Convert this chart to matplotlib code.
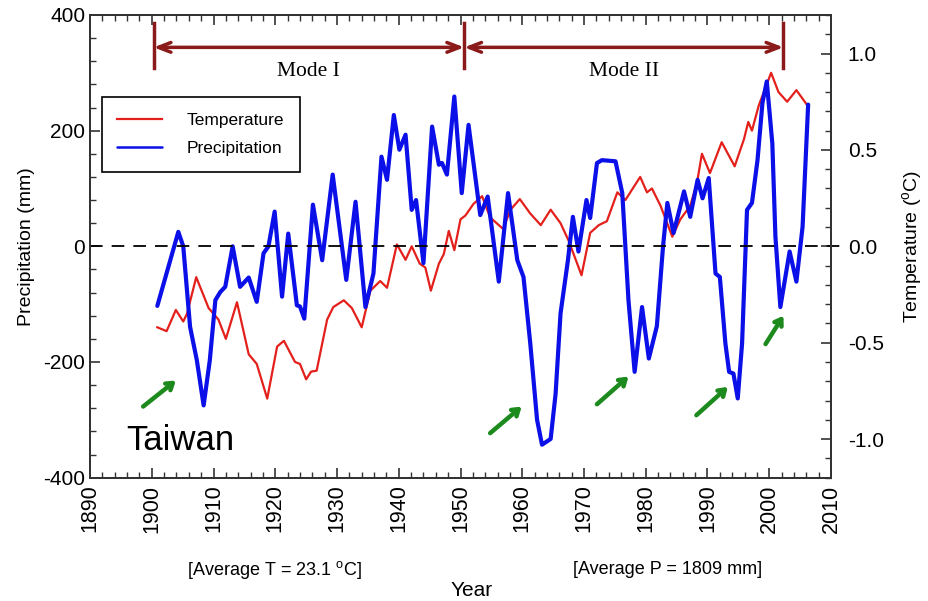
import matplotlib
matplotlib.use("Agg")
import matplotlib.pyplot as plt
from matplotlib.ticker import MultipleLocator

plt.rcParams['font.family'] = ['Liberation Sans', 'DejaVu Sans']
plt.rcParams['mathtext.fontset'] = 'custom'
plt.rcParams['mathtext.rm'] = 'Liberation Sans'
plt.rcParams['axes.unicode_minus'] = False

# %% data
precip_year = [1900.9, 1904.3, 1905.1, 1906.2, 1907.3, 1908.4, 1909.4, 1910.3, 1911.1, 1911.9,
               1913.1, 1914.3, 1915.7, 1917.0, 1918.1, 1918.9, 1919.9, 1921.1, 1922.1, 1923.5,
               1924.0, 1924.7, 1926.1, 1927.6, 1929.3, 1931.5, 1933.0, 1934.6, 1935.9, 1937.2,
               1938.1, 1939.2, 1940.1, 1941.1, 1942.1, 1942.8, 1944.0, 1945.4, 1946.5, 1947.0,
               1947.8, 1949.0, 1950.2, 1951.3, 1953.2, 1954.4, 1956.2, 1957.7, 1959.2, 1960.2,
               1961.3, 1962.4, 1963.2, 1964.6, 1965.4, 1966.2, 1967.4, 1968.2, 1969.1, 1970.4,
               1971.0, 1972.1, 1972.9, 1975.1, 1976.2, 1977.2, 1978.2, 1979.4, 1980.5, 1981.8,
               1982.8, 1983.5, 1984.5, 1986.2, 1987.2, 1988.4, 1989.2, 1990.2, 1991.3, 1992.0,
               1992.9, 1993.5, 1994.2, 1994.9, 1995.6, 1996.4, 1997.2, 1998.1, 1998.9, 1999.6,
               2000.5, 2001.0, 2001.8, 2003.3, 2004.4, 2005.4, 2006.3]
precip_mm = [-103, 25, 0, -139, -197, -275, -197, -93, -79, -70,
             0, -70, -54, -96, -12, 0, 60, -87, 22, -102,
             -104, -125, 72, -24, 124, -58, 77, -105, -47, 155,
             115, 227, 167, 193, 63, 80, -29, 207, 141, 144,
             124, 259, 92, 210, 54, 86, -61, 92, -24, -53,
             -168, -300, -343, -333, -255, -116, -24, 51, -9, 80,
             49, 144, 149, 147, 92, -93, -217, -105, -194, -138,
             0, 75, 23, 95, 51, 115, 83, 118, -47, -53,
             -168, -217, -220, -263, -168, 63, 75, 149, 248, 285,
             178, 17, -105, -9, -61, 34, 245]

temp_year = [1900.9, 1902.4, 1903.9, 1905.1, 1905.7, 1907.2, 1909.2, 1910.8, 1912.0, 1913.8,
             1915.7, 1917.0, 1918.7, 1920.3, 1921.4, 1923.2, 1924.0, 1925.0, 1925.8, 1926.7,
             1928.4, 1929.4, 1931.1, 1932.4, 1934.0, 1935.4, 1937.0, 1938.1, 1939.7, 1941.1,
             1942.1, 1943.4, 1944.3, 1945.2, 1946.5, 1947.3, 1948.1, 1949.0, 1950.0, 1950.8,
             1952.1, 1953.5, 1954.8, 1956.9, 1958.1, 1959.6, 1961.3, 1963.0, 1964.6, 1966.2,
             1967.5, 1969.6, 1971.0, 1972.4, 1973.7, 1975.4, 1976.7, 1979.1, 1980.2, 1981.0,
             1982.4, 1984.3, 1985.6, 1987.2, 1988.3, 1989.1, 1990.4, 1992.3, 1994.4, 1995.9,
             1996.6, 1997.2, 1998.3, 2000.3, 2001.5, 2002.9, 2004.4, 2006.2]
temp_c = [-0.42, -0.44, -0.33, -0.39, -0.35, -0.16, -0.32, -0.38, -0.48, -0.29,
          -0.56, -0.61, -0.79, -0.52, -0.49, -0.60, -0.61, -0.69, -0.65, -0.645,
          -0.38, -0.315, -0.28, -0.32, -0.42, -0.23, -0.18, -0.215, 0.01, -0.07,
          0.0, -0.09, -0.11, -0.23, -0.09, -0.04, 0.08, -0.02, 0.14, 0.16,
          0.22, 0.26, 0.15, 0.09, 0.19, 0.245, 0.17, 0.11, 0.19, 0.12,
          0.03, -0.15, 0.07, 0.11, 0.13, 0.28, 0.24, 0.36, 0.28, 0.30,
          0.21, 0.05, 0.14, 0.21, 0.33, 0.48, 0.38, 0.54, 0.415, 0.555,
          0.645, 0.60, 0.73, 0.90, 0.80, 0.75, 0.81, 0.73]

# mode periods (years) and labels
mode_bounds = [1900.3, 1950.6, 2002.3]
mode_labels = ["Mode I", "Mode II"]

# green arrows marking droughts: (tail year, tail mm, head year, head mm)
drought_arrows = [(1898.6, -277, 1903.9, -232),
                  (1954.8, -323, 1959.9, -277),
                  (1972.1, -273, 1977.2, -225),
                  (1988.2, -292, 1993.3, -243),
                  (1999.4, -169, 2002.3, -120)]

# %% plot
fig = plt.figure(figsize=(9.29, 6.01), dpi=100)
ax = fig.add_axes([0.0969, 0.2052, 0.7976, 0.7699])
ax2 = ax.twinx()

l_temp, = ax2.plot(temp_year, temp_c, color='#e3201b', lw=1.6, label='Temperature',
                   solid_joinstyle='round')
l_prec, = ax.plot(precip_year, precip_mm, color='#0b0fe8', lw=3.0, label='Precipitation',
                  solid_joinstyle='round', solid_capstyle='round')
ax.set_zorder(ax2.get_zorder() + 1)
ax.patch.set_visible(False)

ax.axhline(0, xmin=0, xmax=1.012, color='black', lw=1.3, dashes=(7, 5), clip_on=False)

ax.set_xlim(1890, 2010)
ax.set_ylim(-400, 400)
ax2.set_ylim(-1.2, 1.2)

ax.xaxis.set_major_locator(MultipleLocator(10))
ax.xaxis.set_minor_locator(MultipleLocator(2))
ax.yaxis.set_major_locator(MultipleLocator(200))
ax.yaxis.set_minor_locator(MultipleLocator(40))
ax2.yaxis.set_major_locator(MultipleLocator(0.5))
ax2.yaxis.set_minor_locator(MultipleLocator(0.1))
ax2.yaxis.set_major_formatter(matplotlib.ticker.FormatStrFormatter('%.1f'))

ax.tick_params(axis='x', which='both', direction='in', top=True, bottom=True)
ax.tick_params(axis='y', which='both', direction='in', left=True, right=False)
ax2.tick_params(axis='y', which='both', direction='in', right=True, left=False)
for a in (ax, ax2):
    a.tick_params(which='major', length=7, width=1.2, color='#333333', labelsize=15)
    a.tick_params(which='minor', length=4, width=1.0, color='#333333')
    for s in a.spines.values():
        s.set_linewidth(1.4)
        s.set_color('#333333')
ax.tick_params(axis='x', labelsize=15.5, pad=5)
ax2.tick_params(labelsize=15, pad=12)
plt.setp(ax.get_xticklabels(), rotation=90)

ax.set_ylabel('Precipitation (mm)', fontsize=14, labelpad=6)
ax2.set_ylabel(r'Temperature ($^{\mathrm{o}}$C)', fontsize=14, labelpad=12)

# mode brackets
dark_red = '#8b1a1a'
for b in mode_bounds:
    ax.plot([b, b], [308, 386], color=dark_red, lw=2.5)
for i in range(len(mode_labels)):
    ax.annotate('', xy=(mode_bounds[i + 1], 344), xytext=(mode_bounds[i], 344),
                arrowprops=dict(arrowstyle='<->,head_length=0.9,head_width=0.35',
                                color=dark_red, lw=2.5, shrinkA=0, shrinkB=0))
    ax.text((mode_bounds[i] + mode_bounds[i + 1]) / 2, 303, mode_labels[i],
            family='Liberation Serif', fontsize=15.5, ha='center', va='center')

for x0, y0, x1, y1 in drought_arrows:
    ax.annotate('', xy=(x1, y1), xytext=(x0, y0),
                arrowprops=dict(arrowstyle='->,head_length=0.45,head_width=0.3',
                                color='#1c8a1c', lw=3.2, shrinkA=0, shrinkB=0))

ax.text(0.0495, 0.06, 'Taiwan', transform=ax.transAxes, fontsize=25, ha='left', va='baseline')

leg = ax.legend([l_temp, l_prec], ['Temperature', 'Precipitation'],
                loc='upper left', bbox_to_anchor=(0.004, 0.841), fontsize=12.5,
                fancybox=False, edgecolor='black', framealpha=1,
                handlelength=2.6, handletextpad=1.4, labelspacing=0.75, borderpad=0.9)
leg.get_frame().set_linewidth(1.2)
leg.get_lines()[0].set_linewidth(1.6)
leg.get_lines()[1].set_linewidth(1.8)

fig.text(275 / 929, 1 - 570 / 601, r'[Average T = 23.1 $^{\mathrm{o}}$C]', fontsize=13,
         ha='center', va='center')
fig.text(668 / 929, 1 - 570 / 601, '[Average P = 1809 mm]', fontsize=13,
         ha='center', va='center')
fig.text(472 / 929, 1 - 590 / 601, 'Year', fontsize=15, ha='center', va='center')

fig.savefig('out.png', dpi=100)
